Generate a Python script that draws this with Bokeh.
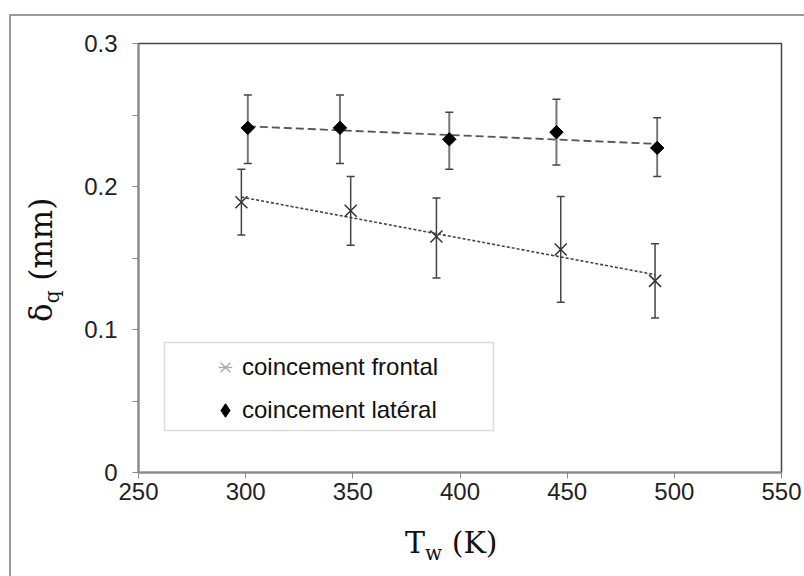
import numpy as np
from bokeh.plotting import figure
from bokeh.models import (ColumnDataSource, Range1d, FixedTicker, Whisker, TeeHead,
                          Legend, LegendItem, BoxAnnotation, Div)
from bokeh.layouts import column, row
from bokeh.embed import file_html
from bokeh.resources import INLINE

# ---- data ----
x_ticks = [250, 300, 350, 400, 450, 500, 550]
y_ticks = [0, 0.1, 0.2, 0.3]
y_minor = [0.05, 0.15, 0.25]

lat_T = [301, 344, 395, 445, 492]
lat_d = [0.241, 0.241, 0.233, 0.238, 0.227]
lat_up = [0.264, 0.264, 0.252, 0.261, 0.248]
lat_lo = [0.216, 0.216, 0.212, 0.215, 0.207]

fro_T = [298, 349, 389, 447, 491]
fro_d = [0.189, 0.183, 0.165, 0.156, 0.134]
fro_up = [0.212, 0.207, 0.192, 0.193, 0.160]
fro_lo = [0.166, 0.159, 0.136, 0.119, 0.108]

label_fro = "coincement frontal"
label_lat = "coincement latéral"
x_title = ("T", "w", "(K)")
y_title = ("δ", "q", "(mm)")

SANS = "Liberation Sans"
SERIF = "DejaVu Serif"

p = figure(width=734, height=500, output_backend="svg", toolbar_location=None,
           x_range=Range1d(250, 550), y_range=Range1d(0, 0.3),
           min_border_left=68, min_border_right=23, min_border_top=27, min_border_bottom=44)
p.margin = 0
p.xgrid.visible = False
p.ygrid.visible = False
p.outline_line_color = "#444444"
p.outline_line_width = 1.5

p.xaxis.ticker = FixedTicker(ticks=x_ticks, minor_ticks=[])
p.yaxis.ticker = FixedTicker(ticks=y_ticks, minor_ticks=y_minor)
p.yaxis.major_label_overrides = {0: "0"}
for ax in (p.xaxis[0], p.yaxis[0]):
    ax.axis_line_color = "#888888"
    ax.axis_line_width = 2
    ax.major_tick_line_color = "#888888"
    ax.minor_tick_line_color = "#888888"
    ax.major_tick_out = 6
    ax.major_tick_in = 0
    ax.minor_tick_out = 6
    ax.minor_tick_in = 0
    ax.major_label_text_font = SANS
    ax.major_label_text_font_size = "24px"
    ax.major_label_text_color = "#222222"
p.yaxis.major_label_standoff = 15
p.xaxis.major_label_standoff = 4

# trend lines (linear fits)
fl = np.polyfit(lat_T, lat_d, 1)
ff = np.polyfit(fro_T, fro_d, 1)
lat_line_x = [lat_T[0], lat_T[-1]]
fro_line_x = [fro_T[0], fro_T[-1]]
p.line(lat_line_x, list(np.polyval(fl, lat_line_x)), line_color="#555555",
       line_width=1.8, line_dash="8 4")
p.line(fro_line_x, list(np.polyval(ff, fro_line_x)), line_color="#444444",
       line_width=1.6, line_dash="3 2")

src_lat = ColumnDataSource(dict(x=lat_T, y=lat_d, upper=lat_up, lower=lat_lo))
src_fro = ColumnDataSource(dict(x=fro_T, y=fro_d, upper=fro_up, lower=fro_lo))

p.add_layout(Whisker(base="x", upper="upper", lower="lower", source=src_lat,
                     line_color="#777777", line_width=2,
                     upper_head=TeeHead(size=8, line_color="#444444", line_width=1.5),
                     lower_head=TeeHead(size=8, line_color="#444444", line_width=1.5)))
p.add_layout(Whisker(base="x", upper="upper", lower="lower", source=src_fro,
                     line_color="#444444", line_width=1.5,
                     upper_head=TeeHead(size=8, line_color="#444444", line_width=1.5),
                     lower_head=TeeHead(size=8, line_color="#444444", line_width=1.5)))

p.scatter("x", "y", source=src_lat, marker="square", angle=np.pi / 4, size=9.5,
          fill_color="black", line_color="black")
p.scatter("x", "y", source=src_fro, marker="x", size=17, line_color="#333333",
          line_width=1.5)

# legend-only renderers
r_lx = p.scatter(x=[np.nan], y=[np.nan], marker="x", line_color="#aaaaaa", line_width=1.4)
r_ld = p.scatter(x=[np.nan], y=[np.nan], marker="dash", angle=np.pi / 2,
                 line_color="#aaaaaa", line_width=1.4)
r_ldia = p.scatter(x=[np.nan], y=[np.nan], marker="diamond", fill_color="black",
                   line_color="black")

legend = Legend(items=[LegendItem(label=label_fro, renderers=[r_lx, r_ld]),
                       LegendItem(label=label_lat, renderers=[r_ldia])],
                location=(70, 43), padding=0, spacing=5, margin=0,
                glyph_width=34, glyph_height=38, label_height=38, label_standoff=-4,
                label_text_font=SANS, label_text_font_size="24px",
                label_text_color="#111111",
                border_line_alpha=0, background_fill_alpha=0)
p.add_layout(legend)

# legend frame (screen units relative to the plot frame)
p.add_layout(BoxAnnotation(left=26, right=355, top=130, bottom=42,
                           left_units="screen", right_units="screen",
                           top_units="screen", bottom_units="screen",
                           fill_alpha=0, line_color="#888888", line_width=1.5))

GRAY_LINE = "#9a9a9a"

top_div = Div(width=804, height=16, margin=0, text=(
    '<div style="position:relative;width:804px;height:16px;">'
    f'<div style="position:absolute;left:9px;top:14px;width:795px;height:2px;background:{GRAY_LINE};"></div>'
    '</div>'))

ylab_div = Div(width=70, height=560, margin=0, text=(
    '<div style="position:relative;width:70px;height:560px;">'
    f'<div style="position:absolute;left:9px;top:0px;width:2px;height:560px;background:{GRAY_LINE};"></div>'
    '<div style="position:absolute;left:26px;top:306px;transform:rotate(-90deg);'
    "transform-origin:left top;white-space:nowrap;font-family:'DejaVu Serif';"
    'font-size:31px;line-height:1;color:#111;">'
    f'{y_title[0]}<span style="font-size:20px;position:relative;top:7px;">{y_title[1]}</span> {y_title[2]}'
    '</div></div>'))

xlab_div = Div(width=734, height=60, margin=0, text=(
    '<div style="position:relative;width:734px;height:60px;">'
    '<div style="position:absolute;left:335px;top:12px;white-space:nowrap;'
    "font-family:'DejaVu Serif';font-size:30px;line-height:1;color:#111;\">"
    f'{x_title[0]}<span style="font-size:20px;position:relative;top:7px;">{x_title[1]}</span> {x_title[2]}'
    '</div></div>'))

layout = column(top_div, row(ylab_div, column(p, xlab_div, spacing=0, margin=0),
                             spacing=0, margin=0), spacing=0, margin=0)

open("out.html", "w").write(file_html(layout, INLINE))
